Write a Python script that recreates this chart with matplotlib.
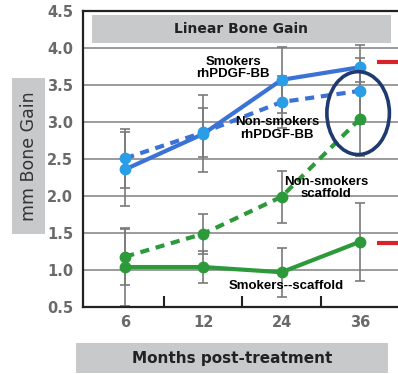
import matplotlib
matplotlib.use("Agg")
import matplotlib.pyplot as plt
from matplotlib.patches import Rectangle, Ellipse

months = ["6", "12", "24", "36"]
smokers_rh = [2.36, 2.84, 3.57, 3.74]
smokers_rh_err = [0.50, 0.52, 0.45, 0.30]
nonsmokers_rh = [2.51, 2.86, 3.27, 3.42]
nonsmokers_rh_err = [0.40, 0.33, 0.35, 0.45]
nonsmokers_sc = [1.18, 1.49, 1.99, 3.04]
nonsmokers_sc_err = [0.38, 0.27, 0.35, 0.50]
smokers_sc = [1.04, 1.04, 0.97, 1.38]
smokers_sc_err = [0.53, 0.22, 0.33, 0.53]
yticks = [0.5, 1.0, 1.5, 2.0, 2.5, 3.0, 3.5, 4.0, 4.5]

W, H = 398, 374
fig = plt.figure(figsize=(W / 100, H / 100), dpi=100)
fig.patch.set_facecolor("white")
ax = fig.add_axes([83 / W, (H - 307) / H, (W - 83) / W, (307 - 11) / H])

x = list(range(len(months)))
blue_line = "#3b72d6"
blue_mk = "#2a9de6"
green = "#2c9a3a"
errc = "#7a7a7a"

for vals, errs in [(smokers_rh, smokers_rh_err), (nonsmokers_rh, nonsmokers_rh_err),
                   (nonsmokers_sc, nonsmokers_sc_err), (smokers_sc, smokers_sc_err)]:
    ax.errorbar(x, vals, yerr=errs, fmt="none", ecolor=errc, elinewidth=1.2,
                capsize=3.5, capthick=1.2, zorder=2)

dash = (0, (2.2, 1.6))
ax.plot(x, smokers_rh, color=blue_line, lw=3, zorder=3)
ax.plot(x, nonsmokers_rh, color=blue_line, lw=3, ls=dash, zorder=3)
ax.plot(x, smokers_rh, "o", color=blue_mk, ms=7.5, zorder=4)
ax.plot(x, nonsmokers_rh, "o", color=blue_mk, ms=7.5, zorder=4)
ax.plot(x, smokers_sc, color=green, lw=3, marker="o", ms=7.5, zorder=3)
ax.plot(x, nonsmokers_sc, color=green, lw=3, ls=dash, marker="o", ms=7.5, zorder=3)

ax.set_xlim(-0.54, 3.49)
ax.set_ylim(0.5, 4.5)
ax.set_yticks(yticks)
ax.set_yticklabels([f"{v:.1f}" for v in yticks], color="#6a6a6a", fontsize=10.5,
                   fontweight="bold")
ax.set_xticks(x)
ax.set_xticklabels(months, color="#6a6a6a", fontsize=10.5, fontweight="bold")
ax.set_xticks([0.5, 1.5, 2.5], minor=True)
ax.tick_params(axis="y", length=0, pad=7)
ax.tick_params(axis="x", which="major", length=0, pad=6)
ax.tick_params(axis="x", which="minor", direction="in", length=8, width=1.5, color="#222222")
for v in [1.0, 1.5, 2.0, 2.5, 3.0, 3.5, 4.0]:
    ax.axhline(v, color="#8a8a8a", lw=1.2, zorder=1)
ax.spines["right"].set_visible(False)
for s in ["left", "bottom", "top"]:
    ax.spines[s].set_linewidth(1.6)
    ax.spines[s].set_color("#222222")

# circle highlight
ax.add_patch(Ellipse((2.98, 3.12), 0.80, 1.12, fill=False, ec="#1f3a6e", lw=2.6, zorder=5))
# red arrows (clipped)
for yv in [3.81, 1.36]:
    ax.plot([3.22, 3.49], [yv, yv], color="#d9232a", lw=3, solid_capstyle="butt",
            clip_on=False, zorder=5)

fs = 9.5
fam = "Liberation Sans"
ax.text(1.38, 3.73, "Smokers\nrhPDGF-BB", ha="center", va="center", fontsize=fs,
        fontweight="bold", family=fam, linespacing=1.05, zorder=6)
ax.text(1.94, 2.91, "Non-smokers\nrhPDGF-BB", ha="center", va="center", fontsize=fs,
        fontweight="bold", family=fam, linespacing=1.05, zorder=6)
ax.text(2.57, 2.11, "Non-smokers\nscaffold", ha="center", va="center", fontsize=fs,
        fontweight="bold", family=fam, linespacing=1.05, zorder=6)
ax.text(2.06, 0.78, "Smokers--scaffold", ha="center", va="center", fontsize=fs,
        fontweight="bold", family=fam, zorder=6)

box = "#c7c9cb"
# title box
fig.add_artist(Rectangle((92 / W, (H - 43) / H), (391 - 92) / W, 28 / H,
                         transform=fig.transFigure, fc=box, ec="none", zorder=3))
fig.text((92 + 391) / 2 / W, (H - 29) / H, "Linear Bone Gain", ha="center", va="center",
         fontsize=10, fontweight="bold", color="#222222", zorder=4)
# y label box
fig.add_artist(Rectangle((12 / W, (H - 234) / H), 33 / W, 156 / H,
                         transform=fig.transFigure, fc=box, ec="none", zorder=3))
fig.text(29 / W, (H - 156) / H, "mm Bone Gain", rotation=90, ha="center", va="center",
         fontsize=12.5, color="#333333", zorder=4)
# x label box
fig.add_artist(Rectangle((76 / W, (H - 373) / H), (388 - 76) / W, 30 / H,
                         transform=fig.transFigure, fc=box, ec="none", zorder=3))
fig.text(232 / W, (H - 358) / H, "Months post-treatment", ha="center", va="center",
         fontsize=11, fontweight="bold", color="#222222", zorder=4)

fig.savefig("out.png", dpi=100)
